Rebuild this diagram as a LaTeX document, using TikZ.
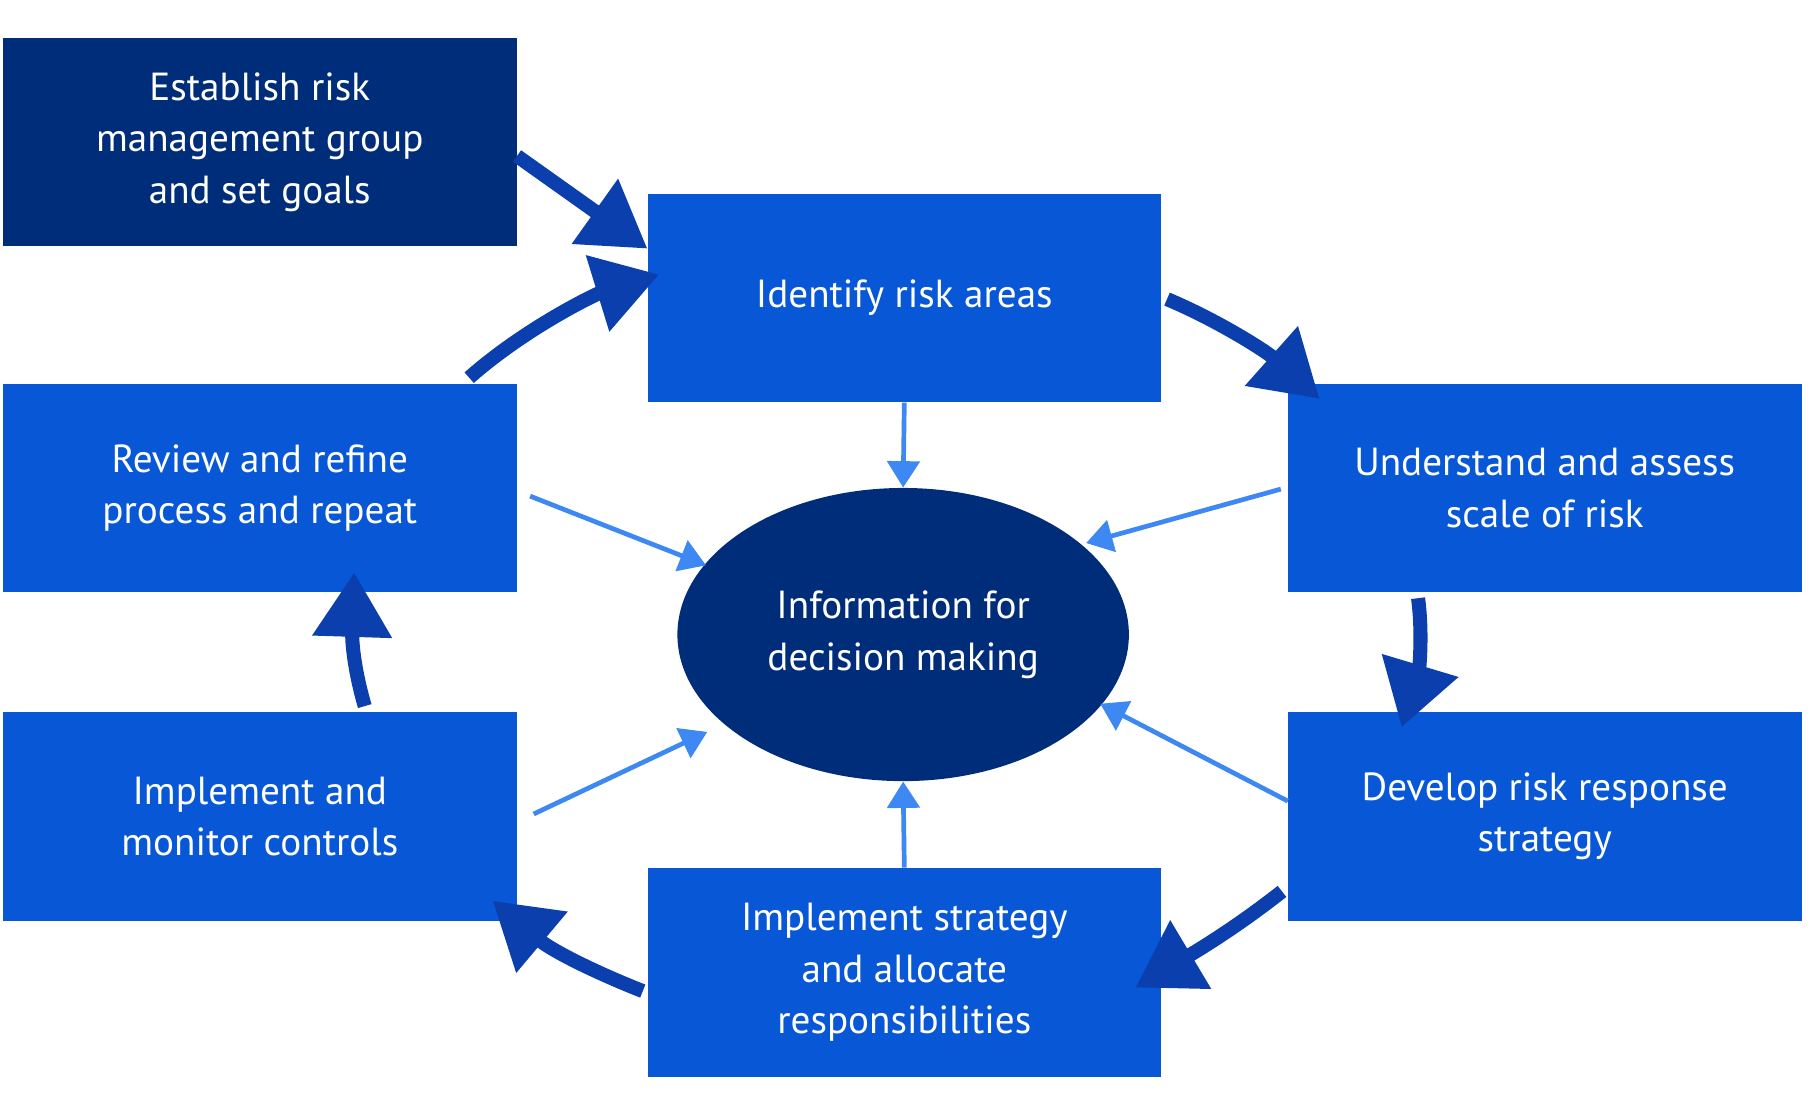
\documentclass[tikz,border=0pt]{standalone}
\usepackage{fontspec}
\setmainfont{PT Sans}
\usetikzlibrary{arrows.meta,shapes.geometric}
\definecolor{navy}{HTML}{002D7A}
\definecolor{boxblue}{HTML}{0757D6}
\definecolor{arrdark}{HTML}{0B3FAE}
\definecolor{arrlight}{HTML}{3D88F2}
\begin{document}
\begin{tikzpicture}[x=0.02cm,y=-0.02cm,
  box/.style={fill=boxblue,minimum width=8.76cm,minimum height=3.56cm,inner sep=0pt,text=white,align=center,font=\fontsize{19}{25}\selectfont},
  big/.style={line width=0.24cm,draw=arrdark,-{Triangle[length=1.1cm,width=1.3cm]}},
  thin/.style={line width=0.08cm,draw=arrlight,-{Triangle[length=0.45cm,width=0.55cm]}}]
\useasboundingbox (0,0) rectangle (1550,939);
\node[box,fill=navy] (est) at (221.5,121) {Establish risk\\management group\\and set goals};
\node[box] (ide) at (771,254) {Identify risk areas};
\node[box] (und) at (1317,416) {Understand and assess\\scale of risk};
\node[box] (dev) at (1317,696) {Develop risk response\\strategy};
\node[box] (imps) at (771,829) {Implement strategy\\and allocate\\responsibilities};
\node[box] (impm) at (221.5,696) {Implement and\\monitor controls};
\node[box] (rev) at (221.5,416) {Review and refine\\process and repeat};
\node[ellipse,fill=navy,minimum width=7.7cm,minimum height=5cm,inner sep=0pt,text=white,align=center,font=\fontsize{19}{25}\selectfont] (info) at (770,541) {Information for\\decision making};
% thick arrows
\coordinate (e1) at (552,212);
\draw[big] (est.east)++(0,12) -- (e1);
\coordinate (r1) at (400,322); \coordinate (r2) at (562,234);
\draw[big] (r1) .. controls (450,278) and (510,250) .. (r2);
\coordinate (i1) at (995,255); \coordinate (i2) at (1125,340);
\draw[big] (i1) .. controls (1040,274) and (1080,300) .. (i2);
\coordinate (u1) at (1209,510); \coordinate (u2) at (1195,620);
\draw[big] (u1) .. controls (1213,540) and (1210,570) .. (u2);
\coordinate (d1) at (1093,760); \coordinate (d2) at (968,842);
\draw[big] (d1) .. controls (1060,786) and (1030,805) .. (d2);
\coordinate (s1) at (548,845); \coordinate (s2) at (420,768);
\draw[big] (s1) .. controls (505,828) and (470,810) .. (s2);
\coordinate (m1) at (311,602); \coordinate (m2) at (302,488);
\draw[big] (m1) .. controls (303,575) and (300,550) .. (m2);
% thin arrows
\draw[thin] (ide.south) -- (info.north);
\coordinate (a1) at (452,423); \draw[thin] (a1) -- (602,482);
\coordinate (a2) at (1092,417); \draw[thin] (a2) -- (926,463);
\coordinate (a3) at (1098,683); \draw[thin] (a3) -- (938,600);
\coordinate (a4) at (455,694); \draw[thin] (a4) -- (603,624);
\draw[thin] (imps.north) -- (info.south);
\end{tikzpicture}
\end{document}
